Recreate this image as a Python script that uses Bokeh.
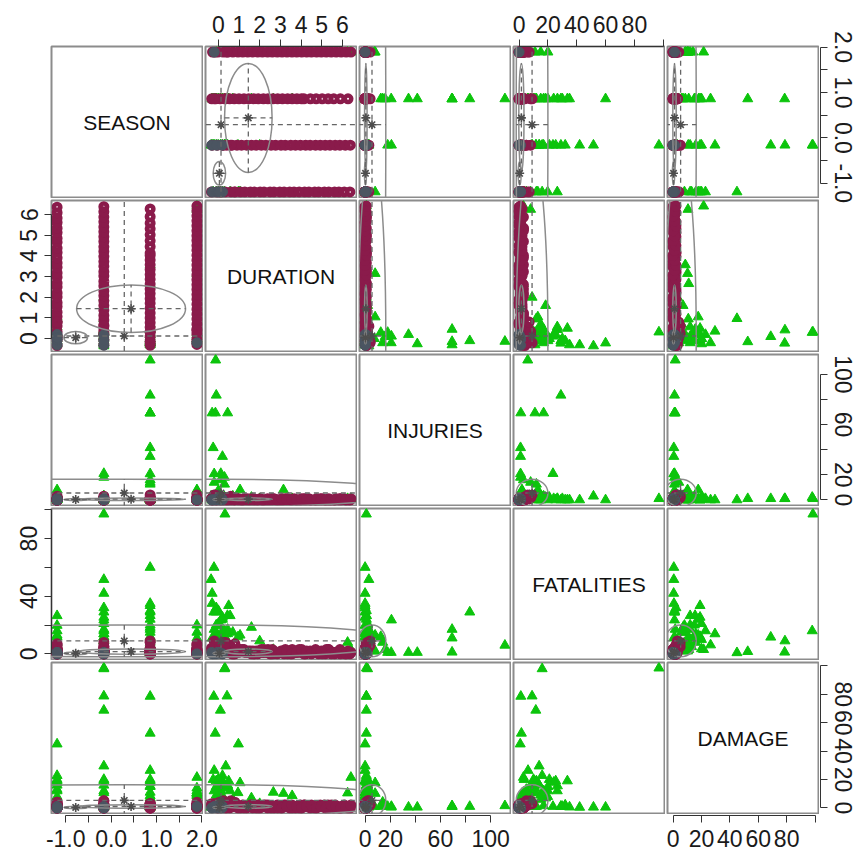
from bokeh.plotting import figure
from bokeh.layouts import gridplot, row, column
from bokeh.models import FixedTicker, Label, Range1d
from bokeh.embed import file_html
from bokeh.resources import INLINE

VARIABLES = ["SEASON", "DURATION", "INJURIES", "FATALITIES", "DAMAGE"]

# ---------------------------------------------------------------- cluster 1: long events (maroon open circles)
maroon_season = ([-1.19] * 29 + [-0.16] * 29 + [0.86] * 28 + [1.89] * 29
                 + [-1.19, -0.16, 0.86, 1.89, -0.16, 0.86, 1.89, -1.19])
maroon_duration = [
    -0.33, -0.08, 0.14, 0.33, 0.61, 0.79, 1.07, 1.28, 1.55, 1.74, 2.02, 2.21, 2.50, 2.69, 2.97,
    3.18, 3.45, 3.66, 3.91, 4.17, 4.38, 4.66, 4.85, 5.13, 5.34, 5.62, 5.83, 6.09, 6.36,
    -0.30, -0.05, 0.20, 0.41, 0.66, 0.90, 1.12, 1.37, 1.60, 1.83, 2.08, 2.30, 2.55, 2.77, 3.03,
    3.24, 3.50, 3.73, 3.97, 4.22, 4.44, 4.70, 4.93, 5.17, 5.40, 5.65, 5.88, 6.14, 6.38,
    -0.32, -0.12, 0.09, 0.30, 0.55, 0.77, 1.00, 1.24, 1.47, 1.71, 1.93, 2.18, 2.40, 2.64,
    2.87, 3.10, 3.35, 3.57, 3.80, 4.02, 4.14, 4.45, 4.73, 5.02, 5.31, 5.58, 5.90, 6.27,
    -0.28, -0.02, 0.23, 0.46, 0.70, 0.95, 1.18, 1.42, 1.66, 1.90, 2.13, 2.38, 2.61, 2.85, 3.08,
    3.32, 3.56, 3.79, 4.03, 4.27, 4.50, 4.75, 4.98, 5.22, 5.46, 5.70, 5.94, 6.18, 6.41,
    0.05, 0.25, -0.20, 0.40, 0.60, 0.35, -0.15, 0.80,
]
maroon_injuries = [
    1, 0, 2, 0, 1, 0, 0, 1, 0, 0, 1, 0, 0, 1, 0, 0, 0, 1, 0, 0, 1, 0, 0, 0, 1, 0, 0, 1, 0,
    0, 1, 1, 0, 0, 1, 0, 0, 1, 0, 0, 0, 1, 0, 0, 1, 0, 0, 0, 1, 0, 0, 1, 0, 0, 0, 1, 0, 0,
    1, 0, 0, 1, 0, 0, 1, 0, 0, 1, 0, 0, 0, 1, 0, 0, 1, 0, 0, 0, 1, 0, 0, 1, 0, 0, 1, 0,
    0, 1, 0, 0, 1, 0, 0, 1, 0, 0, 0, 1, 0, 0, 1, 0, 0, 0, 1, 0, 0, 1, 0, 0, 0, 1, 0, 0, 1,
    3, 2, 4, 1, 3, 2, 4, 1,
]
maroon_fatalities = [
    4, 2, 3, 1, 2, 0, 3, 1, 2, 0, 1, 3, 0, 2, 1, 0, 2, 1, 3, 0, 1, 2, 0, 1, 3, 0, 2, 1, 0,
    3, 5, 1, 2, 0, 3, 2, 1, 0, 2, 3, 1, 0, 1, 2, 3, 0, 2, 1, 0, 2, 3, 1, 0, 2, 1, 3, 0, 1,
    2, 4, 3, 1, 2, 0, 1, 3, 2, 0, 2, 1, 3, 0, 1, 2, 0, 3, 1, 2, 0, 1, 2, 0, 3, 1, 0, 2,
    3, 2, 4, 1, 0, 2, 3, 1, 2, 0, 1, 2, 3, 0, 1, 2, 0, 1, 3, 2, 0, 1, 2, 3, 0, 1, 2, 0, 1,
    6, 8, 9, 7, 5, 8, 6, 7,
]
maroon_damage = [
    2, 1, 3, 0, 1, 2, 0, 1, 2, 1, 0, 2, 1, 0, 1, 2, 0, 1, 0, 2, 1, 0, 1, 2, 0, 1, 0, 2, 1,
    1, 3, 2, 0, 2, 1, 1, 0, 2, 0, 1, 2, 0, 1, 0, 2, 1, 0, 2, 1, 0, 1, 2, 0, 1, 2, 0, 1, 0,
    3, 1, 2, 1, 0, 2, 1, 0, 1, 2, 0, 1, 2, 1, 0, 1, 2, 0, 1, 0, 2, 1, 0, 1, 2, 0, 1, 0,
    2, 0, 1, 3, 1, 0, 2, 1, 0, 2, 1, 0, 1, 2, 0, 1, 2, 1, 0, 1, 2, 0, 1, 0, 2, 1, 0, 1, 2,
    4, 5, 3, 4, 5, 3, 2, 4,
]

# ---------------------------------------------------------------- cluster 2: short, harmless events (slate discs)
slate_season = [-1.19, -1.19, -1.19, -1.19, -0.16, -0.16, -0.16, 1.89]
slate_duration = [-0.30, -0.05, 0.20, 0.05, -0.32, -0.08, 0.18, -0.20]
slate_injuries = [0, 1, 0, 0, 0, 0, 1, 0]
slate_fatalities = [0, 1, 0, 1, 1, 0, 0, 0]
slate_damage = [0, 0, 1, 0, 0, 1, 0, 1]

# ---------------------------------------------------------------- cluster 3: severe events (green triangles)
green_season = [
    -0.16, -0.16, 0.86, -0.16, -0.16, 0.86, -1.19, -0.16, 0.86, 0.86,
    -1.19, 0.86, -0.16, -0.16, 0.86, -0.16, -0.16, 0.86, 0.86, 1.89,
    1.89, 0.86, 1.89, 0.86, -0.16, -1.19, -0.16, 0.86, 0.86, 0.86,
    0.86, 0.86, 0.86, 0.86, -0.16, -0.16, 0.86, 0.86, 1.89, 0.86,
    0.86, -1.19, -1.19, -1.19, -1.19, -1.19, -1.19, 1.89, 1.89, 1.89,
    1.89, 1.89, -0.16, -0.16, -0.16, -0.16, 0.86, 0.86, 0.86, 0.86, 0.86,
]
green_duration = [
    0.32, 0.30, -0.22, 0.42, 0.10, -0.15, 0.97, 0.36, -0.20, 0.44,
    0.57, -0.21, -0.35, -0.30, -0.30, -0.22, -0.10, 0.00, 1.60, 6.25,
    6.41, 2.66, 3.15, 3.57, 2.00, 1.05, 0.95, -0.13, -0.10, -0.14,
    -0.30, 0.45, -0.25, 0.20, 0.12, 0.30, -0.20, 0.30, 0.00, 0.10,
    -0.20, 0.00, 0.20, -0.10, 0.30, 0.10, -0.25, 0.10, -0.10, 0.30,
    0.00, 0.20, 0.00, 0.45, -0.20, 0.20, 0.20, -0.10, 0.50, 0.00, 0.70,
]
green_injuries = [
    1, 2, 1, 1, 1, 1, 0, 0, 0, 1,
    1, 0, 3, 0, 0, 0, 0, 1, 2, 1,
    1, 0, 8, 1, 1, 8, 1, 111.4, 83.4, 69.3,
    69.3, 69.3, 41.6, 34.6, 21, 18, 20.8, 12.5, 7.4, 16,
    14, 0, 1, 0, 2, 0, 1, 1, 0, 2,
    0, 1, 2, 1, 3, 0, 1, 2, 0, 1, 3,
]
green_fatalities = [
    97, 16, 1.2, 9, 11.6, 1.6, 0.8, 13.9, 6.2, 26.6,
    26.5, 60, 51.6, 42, 35, 29, 32, 30, 18.4, 8,
    3, 3, 2, 2, 9, 13, 11.8, 6, 29, 1.2,
    11, 17, 1, 1, 23.5, 1, 1, 12, 2, 3,
    8, 19.8, 16, 12, 8, 5, 3.5, 20, 15, 11,
    6, 3.5, 21, 14, 17, 25.4, 24, 20, 33.5, 10, 15,
]
green_damage = [
    98.5, 98, 78.6, 78.8, 68.8, 52.6, 45, 29.5, 26.4, 15.5,
    12, 0.5, 0.5, 0.4, 0.6, 1, 2, 1, 7, 10.5,
    21.5, 11, 10.2, 8.6, 3, 17.7, 10.7, 1.5, 1, 1,
    1, 1.5, 0.5, 0.5, 1, 1, 0.5, 1, 1, 2,
    4, 8, 22.8, 19, 16, 13, 20, 12, 9, 14,
    10.5, 8.5, 20, 16, 12, 19, 18, 15, 19, 20, 6,
]

# ---------------------------------------------------------------- per-cluster concentration ellipses (centre, half-axis per variable)
maroon_centre = [0.44, 1.45, 0.6, 1.6, 1.0]
maroon_halfaxis = [1.2, 1.15, 1.0, 1.8, 1.2]
slate_centre = [-0.78, 0.05, 0.3, 0.4, 0.3]
slate_halfaxis = [0.26, 0.3, 0.8, 1.0, 0.8]
green_centre = [0.29, 0.13, 5.5, 9.0, 5.3]
green_halfaxis = [10.0, 9.0, 11.0, 11.0, 11.0]

# ---------------------------------------------------------------- outer axis ticks and their printed labels
season_ticks = [-1.0, -0.5, 0.0, 0.5, 1.0, 1.5, 2.0]
season_labels = ["-1.0", "", "0.0", "", "1.0", "", "2.0"]
duration_ticks = [0, 1, 2, 3, 4, 5, 6]
duration_labels = ["0", "1", "2", "3", "4", "5", "6"]
count_ticks = [0, 20, 40, 60, 80, 100]
injuries_labels = ["0", "20", "", "60", "", "100"]
fatalities_top_labels = ["0", "20", "40", "60", "80", ""]
fatalities_left_labels = ["0", "", "40", "", "80", ""]
damage_labels = ["0", "20", "40", "60", "80", ""]

MAROON = "#8A1B4B"
SLATE = "#4B5561"
GREEN = "#0CC40C"
ELLIPSE_GREY = "#8C8C8C"
DASH_GREY = "#666666"
FONT = "Liberation Sans"

groups = [
    dict(cols=[green_season, green_duration, green_injuries, green_fatalities, green_damage],
         marker="triangle", fill=GREEN, line=GREEN, size=10, lw=1,
         centre=green_centre, half=green_halfaxis),
    dict(cols=[maroon_season, maroon_duration, maroon_injuries, maroon_fatalities, maroon_damage],
         marker="circle", fill=None, line=MAROON, size=6.5, lw=4.5,
         centre=maroon_centre, half=maroon_halfaxis),
    dict(cols=[slate_season, slate_duration, slate_injuries, slate_fatalities, slate_damage],
         marker="circle", fill=SLATE, line=SLATE, size=10, lw=1,
         centre=slate_centre, half=slate_halfaxis),
]

# axis limits: data range widened by 4 % on each side
ranges = []
for k in range(5):
    vals = [v for g in groups for v in g["cols"][k]]
    lo, hi = min(vals), max(vals)
    pad = 0.04 * (hi - lo)
    ranges.append((lo - pad, hi + pad))

# page geometry of the 5 x 5 panel grid
FRAME = 151
LEFT = [51, 2, 2, 2, 2]
RIGHT = [1, 1, 1, 1, 1]
TOP = [46, 2, 2, 2, 2]
BOTTOM = [1, 1, 1, 1, 1]
PANEL_X = [sum(LEFT[:j + 1]) + sum(RIGHT[:j]) + FRAME * j for j in range(5)]
PANEL_Y = [sum(TOP[:i + 1]) + sum(BOTTOM[:i]) + FRAME * i for i in range(5)]
GRID_W = sum(LEFT) + sum(RIGHT) + 5 * FRAME
GRID_H = sum(TOP) + sum(BOTTOM) + 5 * FRAME
PAGE = 860

top_axes = {1: (duration_ticks, duration_labels), 3: (count_ticks, fatalities_top_labels)}
left_axes = {1: (duration_ticks, duration_labels), 3: (count_ticks, fatalities_left_labels)}
# axes below the bottom row / right of the last column live in their own strips
bottom_strips = [(0, 280, 0, season_ticks, season_labels),
                 (280, 590, 2, count_ticks, injuries_labels),
                 (590, GRID_W, 4, count_ticks, damage_labels)]
right_strips = [(0, 275, 0, season_ticks, season_labels),
                (275, 585, 2, count_ticks, injuries_labels),
                (585, PAGE, 4, count_ticks, damage_labels)]


def style_axis(ax, ticks, labels, vertical):
    ax.ticker = FixedTicker(ticks=ticks)
    ax.major_label_overrides = {t: lab for t, lab in zip(ticks, labels)}
    ax.bounds = (ticks[0], ticks[-1])
    ax.minor_tick_line_color = None
    ax.major_tick_out = 7
    ax.major_tick_in = 0
    ax.axis_line_color = "#333333"
    ax.major_tick_line_color = "#333333"
    ax.axis_line_width = 1
    ax.major_label_text_font = FONT
    ax.major_label_text_font_size = "23px"
    ax.major_label_text_color = "#1a1a1a"
    ax.major_label_standoff = 7
    if vertical:
        ax.major_label_orientation = "vertical"


def bare(p):
    p.grid.visible = False
    p.outline_line_color = None
    p.background_fill_color = "white"
    p.border_fill_color = "white"


rows = []
for i in range(5):          # row -> variable on the y axis
    cells = []
    for j in range(5):      # column -> variable on the x axis
        xloc = "above" if (i == 0 and j in top_axes) else None
        yloc = "left" if (j == 0 and i in left_axes) else None
        p = figure(width=LEFT[j] + FRAME + RIGHT[j], height=TOP[i] + FRAME + BOTTOM[i],
                   x_range=Range1d(*ranges[j]), y_range=Range1d(*ranges[i]),
                   x_axis_location=xloc, y_axis_location=yloc,
                   min_border_left=LEFT[j], min_border_right=RIGHT[j],
                   min_border_top=TOP[i], min_border_bottom=BOTTOM[i],
                   output_backend="svg", toolbar_location=None)
        bare(p)
        p.outline_line_color = "#8C8C8C"
        p.outline_line_width = 2

        if xloc == "above":
            style_axis(p.xaxis[0], *top_axes[j], vertical=False)
        if yloc == "left":
            style_axis(p.yaxis[0], *left_axes[i], vertical=True)

        if i == j:
            p.add_layout(Label(x=sum(ranges[j]) / 2, y=sum(ranges[i]) / 2, text=VARIABLES[i],
                               text_align="center", text_baseline="middle",
                               text_font=FONT, text_font_size="21px", text_color="#111111"))
        else:
            for g in groups:
                p.scatter(g["cols"][j], g["cols"][i], marker=g["marker"], size=g["size"],
                          fill_color=g["fill"], line_color=g["line"], line_width=g["lw"])
            for g in groups:
                cx, cy = g["centre"][j], g["centre"][i]
                hx, hy = g["half"][j], g["half"][i]
                p.ellipse(x=cx, y=cy, width=2 * hx, height=2 * hy, fill_color=None,
                          line_color=ELLIPSE_GREY, line_width=1.5)
                p.segment(x0=[cx - hx, cx], y0=[cy, cy - hy], x1=[cx + hx, cx], y1=[cy, cy + hy],
                          line_color=DASH_GREY, line_width=1.3, line_dash="5 4")
                p.scatter([cx], [cy], marker="asterisk", size=9,
                          line_color="#4d4d4d", line_width=1.6)
        cells.append(p)
    rows.append(cells)

grid = gridplot(rows, toolbar_location=None)

# bottom axis strips: the same data scale as the panel above, stretched over the strip width
bottom_figs = []
for x0, x1, var, ticks, labels in bottom_strips:
    lo, hi = ranges[var]
    k = (hi - lo) / FRAME
    s = figure(width=x1 - x0, height=PAGE - GRID_H,
               x_range=Range1d(lo - (PANEL_X[var] - x0) * k, hi + (x1 - PANEL_X[var] - FRAME) * k),
               y_range=Range1d(0, 1), x_axis_location="below", y_axis_location=None,
               min_border_left=0, min_border_right=0, min_border_top=0,
               min_border_bottom=PAGE - GRID_H - 1, output_backend="svg", toolbar_location=None)
    bare(s)
    style_axis(s.xaxis[0], ticks, labels, vertical=False)
    bottom_figs.append(s)

# right axis strips
right_figs = []
for y0, y1, var, ticks, labels in right_strips:
    lo, hi = ranges[var]
    k = (hi - lo) / FRAME
    s = figure(width=PAGE - GRID_W, height=y1 - y0, x_range=Range1d(0, 1),
               y_range=Range1d(lo - (y1 - PANEL_Y[var] - FRAME) * k, hi + (PANEL_Y[var] - y0) * k),
               x_axis_location=None, y_axis_location="right",
               min_border_left=0, min_border_right=PAGE - GRID_W - 1, min_border_top=0,
               min_border_bottom=0, output_backend="svg", toolbar_location=None)
    bare(s)
    style_axis(s.yaxis[0], ticks, labels, vertical=True)
    right_figs.append(s)

page = row(column(grid, row(*bottom_figs)), column(*right_figs))
open("out.html", "w").write(file_html(page, INLINE))
